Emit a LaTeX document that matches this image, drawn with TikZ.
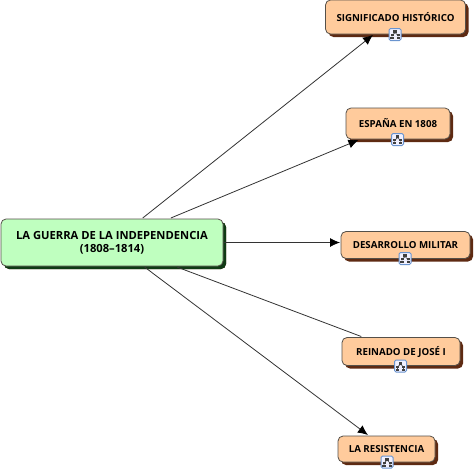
\documentclass[tikz,border=0pt]{standalone}
\usepackage{fontspec}
\setmainfont{Open Sans}
\usepackage{tikz}
\usetikzlibrary{arrows.meta, shadows}
\definecolor{tema}{HTML}{FFCB9C}
\definecolor{temasombra}{HTML}{5E2A12}
\definecolor{raiz}{HTML}{BFFFBF}
\definecolor{raizsombra}{HTML}{0F3A14}
\definecolor{borde}{HTML}{555049}
\definecolor{icono}{HTML}{6A94CF}
\tikzstyle{line} = [draw, color=black!80, line width=0.8pt]
\tikzstyle{tema} = [draw=borde, fill=tema, line width=0.8pt, rounded corners=5pt, inner sep=0pt, outer sep=1pt, align=center,
	font=\fontsize{9.7}{12}\selectfont\bfseries, drop shadow={shadow xshift=3pt, shadow yshift=-3pt, fill=temasombra, opacity=1}]
\tikzstyle{raiz} = [tema, fill=raiz, font=\fontsize{11.2}{12.8}\selectfont\bfseries, drop shadow={shadow xshift=3pt, shadow yshift=-3pt, fill=raizsombra, opacity=1}]
\tikzset{mapa/.pic={
		\draw [draw=icono, fill=blue!6, line width=1pt, rounded corners=1.5pt] (-6,-6) rectangle (6,6);
		\draw [line width=0.7pt, black!70] (0,-2) -- (-3,1) (0,-2) -- (3,1) (-3,2) -- (-3,4) (3,2) -- (3,4);
		\fill [black!75] (-1.7,-4.5) rectangle (1.7,-1.5);
		\fill [black!75] (-4.5,-0.5) rectangle (-1.5,1.8);
		\fill [black!75] (1.5,-0.5) rectangle (4.5,1.8);
		\fill [black!75] (-4.7,2.7) rectangle (-1.5,4.8);
		\fill [black!75] (1.5,2.7) rectangle (4.7,4.8);
}}
\begin{document}
\begin{tikzpicture}[x=1pt, y=-1pt, >={Latex[length=10pt,width=9pt,black]}]
	\useasboundingbox (0,0) rectangle (474,472);
	\node [raiz, minimum width=222pt, minimum height=47pt] (guerra) at (112,242.5) {LA GUERRA DE LA INDEPENDENCIA\\(1808--1814)};
	\node [tema, minimum width=140pt, minimum height=34pt] (significado) at (395.5,17) {SIGNIFICADO HISTÓRICO};
	\node [tema, minimum width=104pt, minimum height=31pt] (espana) at (398,123.5) {ESPAÑA EN 1808};
	\node [tema, minimum width=129pt, minimum height=27pt] (desarrollo) at (405.5,245) {DESARROLLO MILITAR};
	\node [tema, minimum width=118pt, minimum height=28pt] (reinado) at (401,351.5) {REINADO DE JOSÉ I};
	\node [tema, minimum width=97pt, minimum height=26pt] (resistencia) at (386.5,449) {LA RESISTENCIA};
	%Verbindungen
	\draw [line, ->] (guerra) -- (significado);
	\draw [line, ->] (guerra) -- (espana);
	\draw [line, ->] (guerra) -- (guerra -| desarrollo.west);
	\draw [line] (guerra) -- (reinado);
	\draw [line, ->] (guerra) -- (resistencia);
	%Symbole
	\pic at (395,34.5) {mapa};
	\pic at (397.5,139.5) {mapa};
	\pic at (405,258.5) {mapa};
	\pic at (400.5,366) {mapa};
	\pic at (387,462) {mapa};
\end{tikzpicture}
\end{document}
